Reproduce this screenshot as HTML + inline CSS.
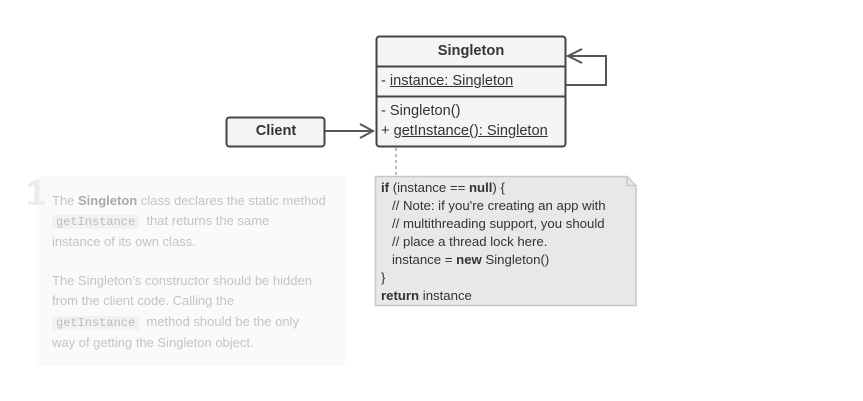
<!DOCTYPE html>
<html><head><meta charset="utf-8"><style>
body{margin:0;width:863px;height:401px;background:#fff;overflow:hidden;font-family:"Liberation Sans",sans-serif;}
.t{position:absolute;font-size:13px;color:#c4c4c4;white-space:nowrap;}
.c{font-family:"Liberation Mono",monospace;font-size:12px;background:#f2f2f2;padding:0 4px;color:#bbb}
.n{position:absolute;font-size:13.2px;color:#333;white-space:nowrap;left:381px}
.s{position:absolute;left:381px;font-size:14.6px;color:#333;white-space:nowrap}
</style></head><body>
<div style="position:absolute;left:36px;top:176px;width:309px;height:190px;background:#fafafa"></div>
<div style="position:absolute;left:26px;top:172px;font-size:36px;font-weight:bold;color:#ececec">1</div>
<div class="t" style="left:52px;top:193px">The <b style="color:#aaa">Singleton</b> class declares the static method</div>
<div class="t" style="left:52px;top:213px"><span class="c">getInstance</span>&nbsp; that returns the same</div>
<div class="t" style="left:52px;top:234px">instance of its own class.</div>
<div class="t" style="left:52px;top:273px">The Singleton’s constructor should be hidden</div>
<div class="t" style="left:52px;top:293px">from the client code. Calling the</div>
<div class="t" style="left:52px;top:314px"><span class="c">getInstance</span>&nbsp; method should be the only</div>
<div class="t" style="left:52px;top:335px">way of getting the Singleton object.</div>
<svg width="863" height="401" style="position:absolute;left:0;top:0">
<rect x="376.5" y="36.5" width="189" height="110" rx="3" fill="#f5f5f5" stroke="#444" stroke-width="2"/>
<line x1="376" y1="66.5" x2="566" y2="66.5" stroke="#444" stroke-width="2"/>
<line x1="376" y1="96.5" x2="566" y2="96.5" stroke="#444" stroke-width="2"/>
<rect x="226.5" y="117.5" width="98" height="29" rx="3" fill="#f5f5f5" stroke="#444" stroke-width="2"/>
<line x1="325" y1="131" x2="373" y2="131" stroke="#555" stroke-width="2"/>
<polyline points="360,124 373,131 360,138" fill="none" stroke="#555" stroke-width="2"/>
<polyline points="566,85 606,85 606,56 568,56" fill="none" stroke="#555" stroke-width="2"/>
<polyline points="582,49 568,56 582,63" fill="none" stroke="#555" stroke-width="2"/>
<line x1="396" y1="148" x2="396" y2="176" stroke="#bbb" stroke-width="2" stroke-dasharray="3,3"/>
<polygon points="375.5,176.5 627,176.5 636,185.5 636,305.5 375.5,305.5" fill="#e8e8e8" stroke="#c8c8c8" stroke-width="1.5"/>
<polyline points="627,176.5 627,185.5 636,185.5" fill="none" stroke="#c8c8c8" stroke-width="1.5"/>
</svg>
<div style="position:absolute;left:376px;top:43px;width:190px;text-align:center;font-weight:bold;font-size:14.6px;color:#333">Singleton</div>
<div class="s" style="top:73px">- <u>instance: Singleton</u></div>
<div class="s" style="top:103px">- Singleton()</div>
<div class="s" style="top:123px">+ <u>getInstance(): Singleton</u></div>
<div style="position:absolute;left:226px;top:123px;width:100px;text-align:center;font-weight:bold;font-size:14.6px;color:#333">Client</div>
<div class="n" style="top:180px"><b>if</b> (instance == <b>null</b>) {</div>
<div class="n" style="top:198px">&nbsp;&nbsp;&nbsp;// Note: if you're creating an app with</div>
<div class="n" style="top:216px">&nbsp;&nbsp;&nbsp;// multithreading support, you should</div>
<div class="n" style="top:234px">&nbsp;&nbsp;&nbsp;// place a thread lock here.</div>
<div class="n" style="top:252px">&nbsp;&nbsp;&nbsp;instance = <b>new</b> Singleton()</div>
<div class="n" style="top:270px">}</div>
<div class="n" style="top:288px"><b>return</b> instance</div>
</body></html>
